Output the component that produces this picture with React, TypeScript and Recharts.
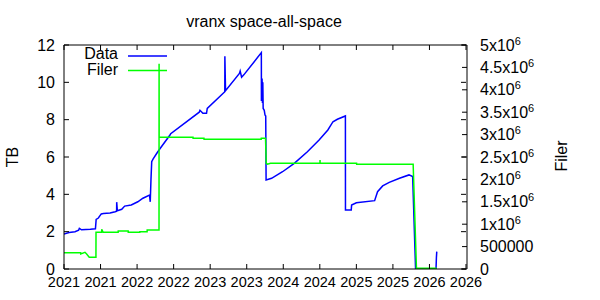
import React from 'react';
import { LineChart, Line, XAxis, YAxis } from 'recharts';

const xTicks = [2021, 2021.5, 2022, 2022.5, 2023, 2023.5, 2024, 2024.5, 2025, 2025.5, 2026, 2026.5];
const tbTicks = [0, 2, 4, 6, 8, 10, 12];
const filerTicks = [0, 500000, 1000000, 1500000, 2000000, 2500000, 3000000, 3500000, 4000000, 4500000, 5000000];

const dataYears = [
  2021.0, 2021.07, 2021.15, 2021.2, 2021.21, 2021.24, 2021.3, 2021.36, 2021.43, 2021.44, 2021.47, 2021.51,
  2021.54, 2021.63, 2021.7, 2021.72, 2021.721, 2021.73, 2021.79, 2021.83, 2021.92, 2022.01, 2022.08, 2022.17,
  2022.18, 2022.19, 2022.2, 2022.22, 2022.27, 2022.31, 2022.45, 2022.46, 2022.85, 2022.86, 2022.9, 2022.95,
  2022.96, 2023.2, 2023.201, 2023.21, 2023.4, 2023.41, 2023.43, 2023.46, 2023.7, 2023.701, 2023.71, 2023.715,
  2023.72, 2023.725, 2023.74, 2023.75, 2023.76, 2023.765, 2023.84, 2023.99, 2024.15, 2024.33, 2024.49, 2024.61,
  2024.68, 2024.74, 2024.85, 2024.851, 2024.93, 2024.935, 2025.0, 2025.25, 2025.29, 2025.36, 2025.45, 2025.59,
  2025.72, 2025.77, 2025.81, 2026.09, 2026.095, 2026.1,
];
const dataTB = [
  1.88, 1.95, 2.0, 2.08, 2.18, 2.1, 2.12, 2.13, 2.15, 2.66, 2.73, 2.95,
  2.97, 3.0, 3.07, 3.1, 3.58, 3.12, 3.2, 3.37, 3.43, 3.6, 3.79, 3.96,
  3.6, 4.8, 5.75, 5.9, 6.2, 6.43, 7.18, 7.25, 8.4, 8.5, 8.34, 8.34,
  8.6, 9.5, 11.4, 9.55, 10.48, 10.6, 10.27, 10.4, 11.59, 9.0, 10.2, 8.9,
  10.0, 8.6, 8.5, 8.25, 8.2, 4.77, 4.86, 5.21, 5.66, 6.28, 6.91, 7.45,
  7.89, 8.02, 8.2, 3.16, 3.16, 3.43, 3.55, 3.66, 4.14, 4.45, 4.64, 4.86,
  5.04, 4.95, 0.02, 0.02, 0.6, 0.93,
];

const filerYears = [
  2021.0, 2021.228, 2021.229, 2021.287, 2021.31, 2021.345, 2021.437, 2021.438, 2021.515, 2021.516, 2021.536,
  2021.741, 2021.742, 2021.878, 2021.879, 2022.037, 2022.038, 2022.137, 2022.138, 2022.3, 2022.301, 2022.302,
  2022.765, 2022.766, 2022.915, 2022.916, 2023.698, 2023.699, 2023.757, 2023.767, 2023.784, 2023.825, 2024.502,
  2024.503, 2024.504, 2025.003, 2025.004, 2025.777, 2025.822, 2026.1,
];
const filerCount = [
  364000, 364000, 335000, 372000, 335000, 261000, 261000, 819000, 819000, 886000, 819000,
  819000, 848000, 848000, 819000, 819000, 833000, 833000, 870000, 870000, 4580000, 2940000,
  2940000, 2917000, 2917000, 2895000, 2895000, 2917000, 2917000, 2360000, 2340000, 2360000, 2360000,
  2430000, 2360000, 2360000, 2337000, 2337000, 15000, 15000,
];

const dataSeries = dataYears.map((t, i) => ({ t, v: dataTB[i] }));
const filerSeries = filerYears.map((t, i) => ({ t, v: filerCount[i] }));

const FONT = '"Liberation Sans", Arial, sans-serif';

const Y2Tick = (props: any) => {
  const { x, y, payload } = props;
  const v = payload.value as number;
  let content: React.ReactNode;
  if (v === 0 || v === 500000) {
    content = String(v);
  } else {
    const m = v / 1e6;
    content = (
      <>
        <tspan>{`${m}x10`}</tspan>
        <tspan dy={-6} fontSize={11}>6</tspan>
      </>
    );
  }
  return (
    <text x={x} y={y} dy="0.355em" textAnchor="start" fill="#000" fontSize={16} fontFamily={FONT}>
      {content}
    </text>
  );
};

export default function App() {
  return (
    <div style={{ position: 'absolute', left: 0, top: 0, width: 600, height: 300, background: '#fff' }}>
      <LineChart width={600} height={300} margin={{ top: 44, left: 14, right: 53, bottom: 6 }}>
        <XAxis
          type="number"
          dataKey="t"
          domain={[2021, 2026.5]}
          ticks={xTicks}
          interval={0}
          allowDataOverflow
          tickFormatter={(v: number) => String(Math.floor(v))}
          height={25}
          tickSize={-5}
          tickMargin={13}
          axisLine={{ stroke: '#000' }}
          tickLine={{ stroke: '#000' }}
          tick={{ fill: '#000', fontSize: 14.5, fontFamily: FONT }}
        />
        <XAxis
          xAxisId="top"
          orientation="top"
          type="number"
          dataKey="t"
          domain={[2021, 2026.5]}
          ticks={xTicks}
          interval={0}
          allowDataOverflow
          tickFormatter={() => ''}
          height={1}
          tickSize={-5}
          axisLine={{ stroke: '#000' }}
          tickLine={{ stroke: '#000' }}
        />
        <YAxis
          yAxisId="left"
          type="number"
          domain={[0, 12]}
          ticks={tbTicks}
          interval={0}
          allowDataOverflow
          width={50}
          tickSize={-5}
          tickMargin={14}
          axisLine={{ stroke: '#000' }}
          tickLine={{ stroke: '#000' }}
          tick={{ fill: '#000', fontSize: 16, fontFamily: FONT }}
        />
        <YAxis
          yAxisId="mirror"
          orientation="right"
          type="number"
          domain={[0, 12]}
          ticks={tbTicks}
          interval={0}
          allowDataOverflow
          width={1}
          tickSize={-5}
          tickFormatter={() => ''}
          axisLine={false}
          tickLine={{ stroke: '#000' }}
        />
        <YAxis
          yAxisId="right"
          orientation="right"
          type="number"
          domain={[0, 5000000]}
          ticks={filerTicks}
          interval={0}
          allowDataOverflow
          width={80}
          tickSize={-5}
          tickMargin={18}
          axisLine={{ stroke: '#000' }}
          tickLine={{ stroke: '#000' }}
          tick={<Y2Tick />}
        />
        <Line
          yAxisId="left"
          data={dataSeries}
          dataKey="v"
          name="Data"
          type="linear"
          stroke="#0000ff"
          strokeWidth={1.5}
          dot={false}
          activeDot={false}
          isAnimationActive={false}
        />
        <Line
          yAxisId="right"
          data={filerSeries}
          dataKey="v"
          name="Filer"
          type="linear"
          stroke="#00ff00"
          strokeWidth={1.5}
          dot={false}
          activeDot={false}
          isAnimationActive={false}
        />
        <text x={264} y={27} textAnchor="middle" fontSize={16} fontFamily={FONT} fill="#000">
          vranx space-all-space
        </text>
        <text x={18} y={157} textAnchor="middle" transform="rotate(-90 18 157)" fontSize={16} fontFamily={FONT} fill="#000">
          TB
        </text>
        <text x={567} y={156} textAnchor="middle" transform="rotate(-90 567 156)" fontSize={16} fontFamily={FONT} fill="#000">
          Filer
        </text>
        <text x={118} y={53} dy="0.355em" textAnchor="end" fontSize={16} fontFamily={FONT} fill="#000">Data</text>
        <line x1={128} x2={167} y1={56} y2={56} stroke="#0000ff" strokeWidth={1.5} />
        <text x={118} y={69} dy="0.355em" textAnchor="end" fontSize={16} fontFamily={FONT} fill="#000">Filer</text>
        <line x1={128} x2={167} y1={70.5} y2={70.5} stroke="#00ff00" strokeWidth={1.5} />
      </LineChart>
    </div>
  );
}
